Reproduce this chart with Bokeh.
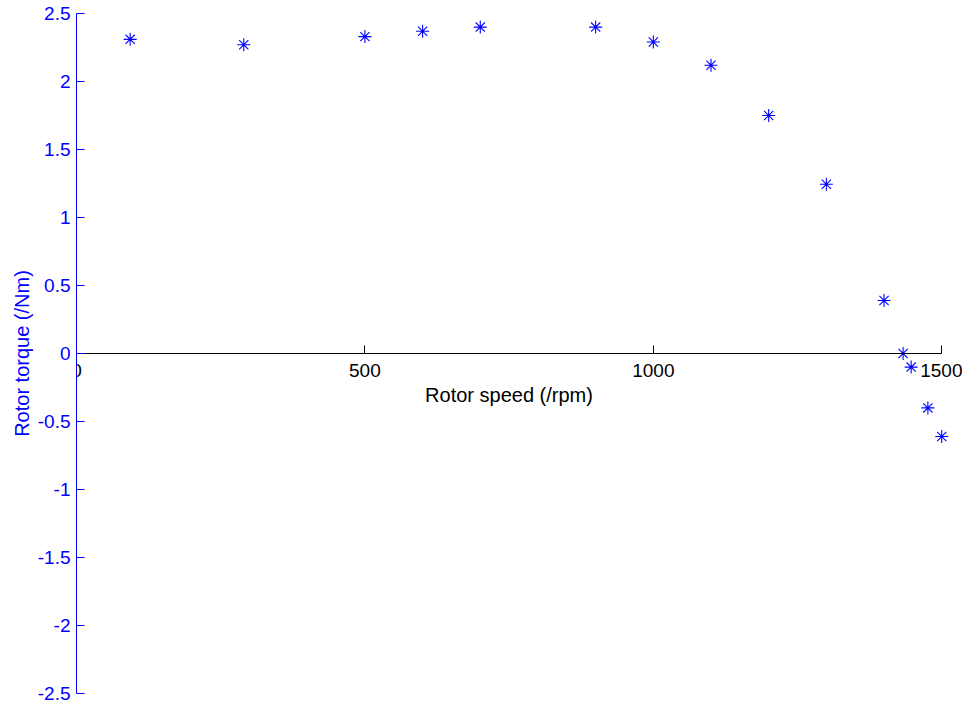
from bokeh.plotting import figure
from bokeh.models import LinearAxis, FixedTicker, Range1d, CustomJSTickFormatter
from bokeh.embed import file_html
from bokeh.resources import INLINE

# Data
speed_rpm = [93, 290, 500, 600, 700, 900, 1000, 1100, 1200, 1300, 1400, 1433, 1447, 1476, 1500]
torque_nm = [2.31, 2.27, 2.33, 2.37, 2.40, 2.40, 2.29, 2.12, 1.75, 1.245, 0.39, 0.0, -0.10, -0.40, -0.61]

x_ticks = [0, 500, 1000, 1500]
y_ticks = [-2.5, -2, -1.5, -1, -0.5, 0, 0.5, 1, 1.5, 2, 2.5]

BLUE = "#0000FF"
FONT = "Liberation Sans"

p = figure(width=962, height=704, output_backend="svg", toolbar_location=None,
           x_range=Range1d(0, 1536), y_range=Range1d(-2.5, 2.5),
           x_axis_location=None, y_axis_location=None,
           min_border_left=76, min_border_right=0, min_border_top=13, min_border_bottom=11)
p.grid.visible = False
p.outline_line_color = None
p.background_fill_color = "white"
p.border_fill_color = "white"

p.scatter(speed_rpm, torque_nm, marker="asterisk", size=13, line_color=BLUE, line_width=1.1)

# y axis (blue, at x = 0)
ya = LinearAxis(ticker=FixedTicker(ticks=y_ticks), axis_label="Rotor torque (/Nm)",
                formatter=CustomJSTickFormatter(code="return String(tick);"))
ya.bounds = (-2.5, 2.5)
ya.axis_line_color = BLUE
ya.major_tick_line_color = BLUE
ya.major_label_text_color = BLUE
ya.axis_label_text_color = BLUE
ya.major_tick_in = 8
ya.major_tick_out = 0
ya.minor_tick_line_color = None
ya.major_label_standoff = 6
ya.axis_label_standoff = 2
ya.major_label_text_font = FONT
ya.major_label_text_font_size = "19px"
ya.axis_label_text_font = FONT
ya.axis_label_text_font_size = "20px"
ya.axis_label_text_font_style = "normal"
p.add_layout(ya, "left")

# x axis (black, at y = 0)
xa = LinearAxis(ticker=FixedTicker(ticks=x_ticks), axis_label="Rotor speed (/rpm)",
                fixed_location=0, formatter=CustomJSTickFormatter(code="return String(tick);"))
xa.bounds = (0, 1500)
xa.axis_line_color = "black"
xa.major_tick_line_color = "black"
xa.major_label_text_color = "black"
xa.axis_label_text_color = "black"
xa.major_tick_in = 8
xa.major_tick_out = 0
xa.minor_tick_line_color = None
xa.major_label_standoff = 10
xa.axis_label_standoff = 4
xa.major_label_text_font = FONT
xa.major_label_text_font_size = "19px"
xa.axis_label_text_font = FONT
xa.axis_label_text_font_size = "20px"
xa.axis_label_text_font_style = "normal"
p.add_layout(xa, "below")

open("out.html", "w").write(file_html(p, INLINE))
